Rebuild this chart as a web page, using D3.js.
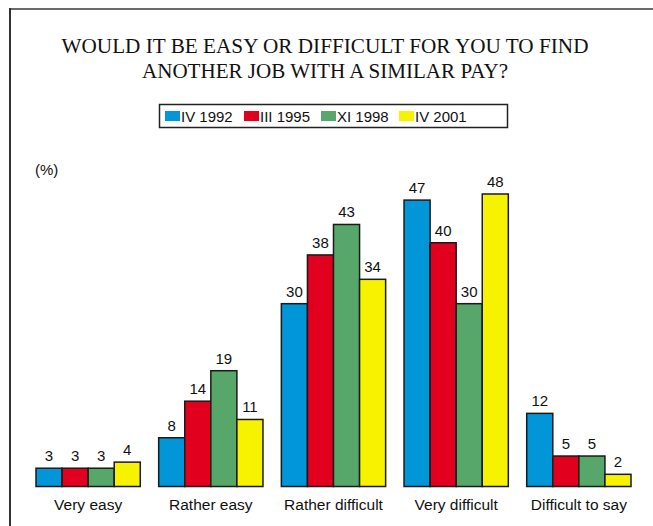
<!DOCTYPE html>
<html>
<head>
<meta charset="utf-8">
<script src="https://cdn.jsdelivr.net/npm/d3@7"></script>
<style>
  html, body { margin: 0; padding: 0; background: #fff; }
  svg { display: block; }
</style>
</head>
<body>
<svg id="chart" width="653" height="526"></svg>
<script>
const categories = ["Very easy", "Rather easy", "Rather difficult", "Very difficult", "Difficult to say"];
const seriesNames = ["IV 1992", "III 1995", "XI 1998", "IV 2001"];
const seriesColors = ["#0096d8", "#e2001f", "#57a76b", "#f7f200"];
const values1992 = [3, 8, 30, 47, 12];
const values1995 = [3, 14, 38, 40, 5];
const values1998 = [3, 19, 43, 30, 5];
const values2001 = [4, 11, 34, 48, 2];
const seriesValues = [values1992, values1995, values1998, values2001];
const titleLines = ["WOULD IT BE EASY OR DIFFICULT FOR YOU TO FIND", "ANOTHER JOB WITH A SIMILAR PAY?"];
const unitLabel = "(%)";

const sans = "'Liberation Sans', Arial, Helvetica, sans-serif";
const svg = d3.select("#chart");

// frame (left and top edges)
svg.append("path")
  .attr("d", "M10,9 H653")
  .attr("stroke", "#6a6a6a")
  .attr("stroke-width", 2);
svg.append("path")
  .attr("d", "M10,8 V526")
  .attr("stroke", "#333")
  .attr("stroke-width", 2);

// title
const titleWidths = [527, 366];
svg.append("g").selectAll("text")
  .data(titleLines)
  .join("text")
  .attr("x", 325)
  .attr("y", (d, i) => 53 + i * 25)
  .attr("text-anchor", "middle")
  .attr("font-family", "'Liberation Serif', 'Times New Roman', serif")
  .attr("font-size", 21)
  .attr("textLength", (d, i) => titleWidths[i])
  .attr("lengthAdjust", "spacingAndGlyphs")
  .attr("fill", "#111")
  .text(d => d);

// legend
const legend = svg.append("g");
legend.append("rect")
  .attr("x", 159.5).attr("y", 104.5)
  .attr("width", 348).attr("height", 23)
  .attr("fill", "#fff").attr("stroke", "#222").attr("stroke-width", 1.5);
const legendX = [165, 244, 321, 399];
const items = legend.selectAll("g.item")
  .data(seriesNames)
  .join("g")
  .attr("class", "item")
  .attr("transform", (d, i) => `translate(${legendX[i]},111)`);
items.append("rect")
  .attr("width", 15).attr("height", 10)
  .attr("fill", (d, i) => seriesColors[i]);
items.append("text")
  .attr("x", 16).attr("y", 10.5)
  .attr("font-family", sans)
  .attr("font-size", 15)
  .attr("fill", "#111")
  .text(d => d);

// unit label
svg.append("text")
  .attr("x", 35).attr("y", 175)
  .attr("font-family", sans)
  .attr("font-size", 15)
  .attr("fill", "#111")
  .text(unitLabel);

// scales
const x0 = d3.scaleBand().domain(categories).range([36, 631]).paddingInner(0.15).paddingOuter(0);
const x1 = d3.scaleBand().domain(d3.range(seriesNames.length)).range([0, x0.bandwidth()]).padding(0);
const y = d3.scaleLinear().domain([0, 48]).range([486.5, 194]);

const groups = svg.append("g").selectAll("g")
  .data(categories)
  .join("g")
  .attr("transform", d => `translate(${x0(d)},0)`);

const cells = groups.selectAll("g.bar")
  .data((c, ci) => seriesValues.map((vals, si) => ({ si, v: vals[ci] })))
  .join("g")
  .attr("class", "bar");

cells.append("rect")
  .attr("x", d => x1(d.si))
  .attr("y", d => y(d.v))
  .attr("width", x1.bandwidth())
  .attr("height", d => y(0) - y(d.v))
  .attr("fill", d => seriesColors[d.si])
  .attr("stroke", "#1a1a1a")
  .attr("stroke-width", 1.5);

cells.append("text")
  .attr("x", d => x1(d.si) + x1.bandwidth() / 2)
  .attr("y", d => y(d.v) - 7)
  .attr("text-anchor", "middle")
  .attr("font-family", sans)
  .attr("font-size", 15)
  .attr("fill", "#111")
  .text(d => d.v);

// category labels
const xAxis = d3.axisBottom(x0).tickSize(0).tickPadding(13);
const axisG = svg.append("g").attr("transform", "translate(0,486)").call(xAxis);
axisG.select(".domain").remove();
axisG.selectAll("text")
  .attr("font-family", sans)
  .attr("font-size", 15.5)
  .attr("fill", "#111");
</script>
</body>
</html>
